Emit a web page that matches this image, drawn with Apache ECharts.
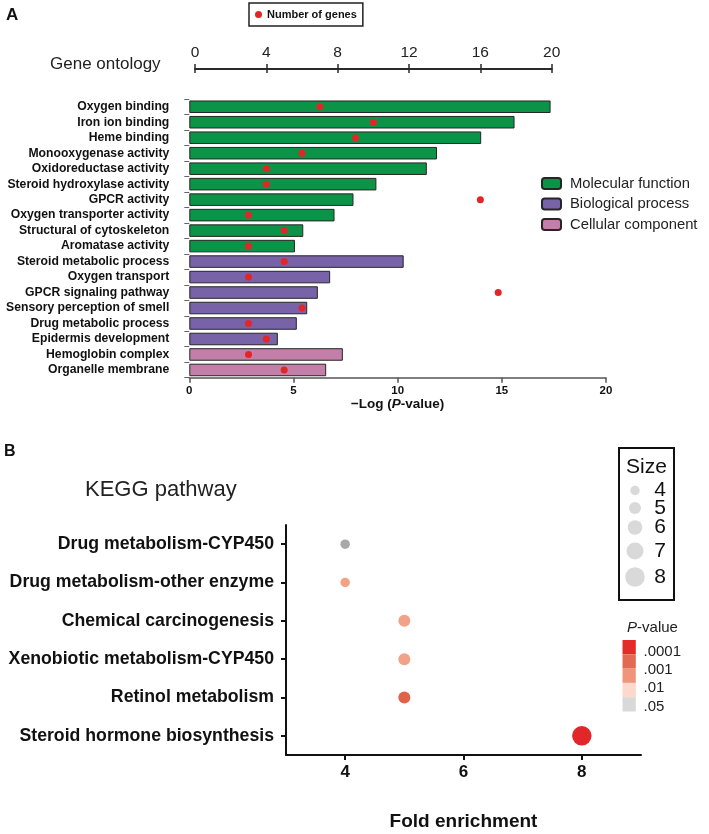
<!DOCTYPE html>
<html><head><meta charset="utf-8">
<script src="https://cdn.jsdelivr.net/npm/echarts@6/dist/echarts.min.js"></script>
<style>html,body{margin:0;padding:0;background:#fff}#c{width:709px;height:834px}</style>
</head><body><div id="c"></div>
<script>
// ---------- Panel A: Gene ontology ----------
const goTerms = ['Oxygen binding','Iron ion binding','Heme binding','Monooxygenase activity','Oxidoreductase activity','Steroid hydroxylase activity','GPCR activity','Oxygen transporter activity','Structural of cytoskeleton','Aromatase activity','Steroid metabolic process','Oxygen transport','GPCR signaling pathway','Sensory perception of smell','Drug metabolic process','Epidermis development','Hemoglobin complex','Organelle membrane'];
const goLogP = [17.34,15.61,14.01,11.89,11.4,8.98,7.88,6.97,5.47,5.07,10.29,6.76,6.17,5.66,5.16,4.25,7.37,6.57];
const goGenes = [7,10,9,6,4,4,16,3,5,3,5,3,17,6,3,4,3,5];
const goGroup = [0,0,0,0,0,0,0,0,0,0,1,1,1,1,1,1,2,2];
const goGroupNames = ['Molecular function','Biological process','Cellular component'];
const logPTicks = {min:0,max:20,interval:5};
const geneTicks = {min:0,max:20,interval:4};

// ---------- Panel B: KEGG pathway ----------
const keggTerms = ['Drug metabolism-CYP450','Drug metabolism-other enzyme','Chemical carcinogenesis','Xenobiotic metabolism-CYP450','Retinol metabolism','Steroid hormone biosynthesis'];
const keggFold = [4,4,5,5,5,8];
const keggSize = [4,4,5,5,5,8];
const keggPLevel = [4,2,2,2,1,0];
const foldTicks = [4,6,8];
const sizeLegendValues = [4,5,6,7,8];
const pLegendLabels = ['.0001','.001','.01','.05'];

// ---------- styles ----------
const SANS = '"Liberation Sans",Arial,Helvetica,sans-serif';
const groupColors = ['#0b9447','#7862a8','#c37fa9'];
const dotPalette = ['#e3262a','#df6249','#f2a387','#fbd6c9','#a9a9a9'];
const pLegendPalette = ['#e52a2a','#e26a52','#f0957c','#fcd9cc','#d9d9d9'];
const sizeToPx = s => 2.5 * s - 0.5;

const chart = echarts.init(document.getElementById('c'));

const barSeries = goGroupNames.map((name, g) => ({
  type: 'bar', name, stack: 'go', xAxisIndex: 0, yAxisIndex: 0,
  barCategoryGap: '19%',
  itemStyle: {color: groupColors[g], borderColor: '#262626', borderWidth: 1},
  data: goLogP.map((v, i) => goGroup[i] === g ? v : '-'),
  silent: true
}));

const graphics = [
  {type:'text', left:6, top:7, style:{text:'A', font:'bold 17px ' + SANS, fill:'#111'}},
  {type:'text', left:4, top:444, style:{text:'B', font:'bold 16px ' + SANS, fill:'#111'}},
  {type:'text', x:50, y:64, style:{text:'Gene ontology', font:'17px ' + SANS, fill:'#222', verticalAlign:'middle'}},
  {type:'text', x:85, y:490, style:{text:'KEGG pathway', font:'22px ' + SANS, fill:'#222', verticalAlign:'middle'}},
  // Size legend
  {type:'rect', shape:{x:619, y:448, width:55, height:152}, style:{fill:'none', stroke:'#111', lineWidth:2}},
  {type:'text', x:646.5, y:467, style:{text:'Size', font:'21px ' + SANS, fill:'#111', align:'center', verticalAlign:'middle'}}
];
const sizeRowY = [490.5, 508, 527.5, 551, 577];
sizeLegendValues.forEach((s, i) => {
  graphics.push({type:'circle', shape:{cx:635, cy:sizeRowY[i], r:sizeToPx(s)/2}, style:{fill:'#d9d9d9'}});
  graphics.push({type:'text', x:660, y:sizeRowY[i], style:{text:String(s), font:'21px ' + SANS, fill:'#111', align:'center', verticalAlign:'middle'}});
});
// P-value legend
graphics.push({type:'text', x:652.5, y:627.5, style:{
  text:'{i|P}{n|-value}', align:'center', verticalAlign:'middle',
  rich:{i:{font:'italic 15px ' + SANS, fill:'#222'}, n:{font:'15px ' + SANS, fill:'#222'}}}});
pLegendPalette.forEach((c, i) => {
  graphics.push({type:'rect', shape:{x:622.5, y:640 + i*14.3, width:13.3, height:14.3}, style:{fill:c}});
});
const pLabelY = [652.3, 669.5, 688.3, 706.7];
pLegendLabels.forEach((t, i) => {
  graphics.push({type:'text', x:643.5, y:pLabelY[i], style:{text:t, font:'15px ' + SANS, fill:'#222', verticalAlign:'middle'}});
});

chart.setOption({
  animation: false,
  backgroundColor: '#fff',
  textStyle: {fontFamily: SANS},
  grid: [
    {left:189.3, top:99, width:416.7, height:278.7, outerBoundsMode:'none', containLabel:false},
    {left:195, top:99, width:356.7, height:278.7, outerBoundsMode:'none', containLabel:false},
    {left:286, top:525, width:355, height:230, outerBoundsMode:'none', containLabel:false}
  ],
  legend: [
    {data: goGroupNames, orient:'vertical', left:541, top:176, itemWidth:19, itemHeight:11, itemGap:5.5,
     padding:0, textStyle:{fontSize:14.8, color:'#222', fontFamily:SANS, padding:[0,0,0,4]}, selectedMode:false},
    {data: ['Number of genes'], left:249, top:3, padding:[5,6,5,6], borderColor:'#222', borderWidth:1.5,
     itemWidth:7, itemHeight:7, icon:'circle', selectedMode:false,
     textStyle:{fontSize:11, fontWeight:'bold', color:'#111', fontFamily:SANS, lineHeight:13}}
  ],
  xAxis: [
    {type:'value', gridIndex:0, min:logPTicks.min, max:logPTicks.max, interval:logPTicks.interval,
     axisLine:{show:true, lineStyle:{color:'#555', width:1.5}},
     axisTick:{show:true, length:5, lineStyle:{color:'#555', width:1.5}},
     axisLabel:{fontSize:11.5, fontWeight:'bold', color:'#111', margin:7},
     splitLine:{show:false},
     name:'{b|−Log (}{i|P}{b|-value)}', nameLocation:'middle', nameGap:16,
     nameTextStyle:{rich:{b:{fontSize:13.5, fontWeight:'bold', color:'#111'},
                          i:{fontSize:13.5, fontWeight:'bold', fontStyle:'italic', color:'#111'}}}},
    {type:'value', gridIndex:1, position:'top', offset:30, min:geneTicks.min, max:geneTicks.max, interval:geneTicks.interval,
     axisLine:{show:true, lineStyle:{color:'#2a2a2a', width:2}},
     axisTick:{show:true, length:5, lineStyle:{color:'#2a2a2a', width:1.5}},
     axisLabel:{fontSize:15.5, color:'#222', margin:8},
     splitLine:{show:false}},
    {type:'value', gridIndex:1, position:'top', offset:30, min:geneTicks.min, max:geneTicks.max, interval:geneTicks.interval,
     axisLine:{show:false}, axisTick:{show:true, inside:true, length:4, lineStyle:{color:'#2a2a2a', width:1.5}},
     axisLabel:{show:false}, splitLine:{show:false}},
    {type:'value', gridIndex:2, min:3, max:9,
     axisLine:{show:true, onZero:false, lineStyle:{color:'#111', width:2}},
     axisTick:{show:true, length:5, customValues:foldTicks, lineStyle:{color:'#111', width:2}},
     axisLabel:{customValues:foldTicks, fontSize:17, fontWeight:'bold', color:'#111', margin:9},
     splitLine:{show:false},
     name:'Fold enrichment', nameLocation:'middle', nameGap:57,
     nameTextStyle:{fontSize:19, fontWeight:'bold', color:'#111'}}
  ],
  yAxis: [
    {type:'category', gridIndex:0, data:goTerms, inverse:true,
     axisLine:{show:false}, axisTick:{show:true, length:5, lineStyle:{color:'#666', width:1}},
     axisLabel:{fontSize:12.2, fontWeight:'bold', color:'#111', margin:20, interval:0},
     splitLine:{show:false}},
    {type:'category', gridIndex:1, data:goTerms, inverse:true, show:false},
    {type:'category', gridIndex:2, data:keggTerms, inverse:true,
     axisLine:{show:true, lineStyle:{color:'#111', width:2}},
     axisTick:{show:true, length:5, alignWithLabel:true, lineStyle:{color:'#111', width:2}},
     axisLabel:{fontSize:17.7, fontWeight:'bold', color:'#111', margin:12, interval:0},
     splitLine:{show:false}}
  ],
  series: [
    ...barSeries,
    {type:'scatter', name:'Number of genes', xAxisIndex:1, yAxisIndex:1, symbolSize:7,
     itemStyle:{color:'#e42528', opacity:1}, data: goGenes.map((v, i) => [v, goTerms[i]]), silent:true, z:5},
    {type:'scatter', name:'KEGG', xAxisIndex:3, yAxisIndex:2,
     data: keggFold.map((f, i) => ({value:[f, keggTerms[i]], symbolSize:sizeToPx(keggSize[i]),
                                    itemStyle:{color:dotPalette[keggPLevel[i]], opacity:1}})), silent:true}
  ],
  graphic: graphics
});
</script>
</body></html>
